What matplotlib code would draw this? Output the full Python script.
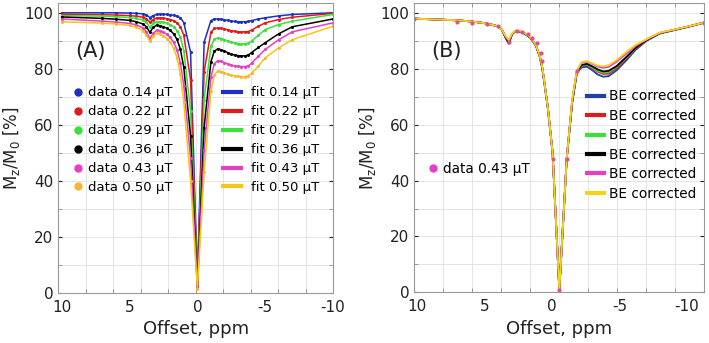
import matplotlib
matplotlib.use('Agg')
import matplotlib.pyplot as plt
from matplotlib.lines import Line2D
import numpy as np

plt.rcParams['font.family'] = 'DejaVu Sans'
plt.rcParams['axes.unicode_minus'] = False

# ---- panel A: Z-spectra at six B1 levels ----
offsets_a = [10, 7, 6, 5, 4.5, 4, 3.75, 3.5, 3.25, 3, 2.75, 2.5, 2.25, 2, 1.75, 1.5, 1.25, 1, 0.5, 0,
             -0.5, -1, -1.25, -1.5, -1.75, -2, -2.25, -2.5, -2.75, -3, -3.25, -3.5, -3.75, -4, -4.5, -5,
             -6, -7, -10]

z_014 = [100, 100, 100, 99.9, 99.8, 99.6, 99.2, 98.3, 99, 99.4, 99.5, 99.5, 99.4, 99.3, 99.1, 98.8, 98.2, 96.5, 86, 4,
         89.5, 97.2, 97.8, 97.8, 97.7, 97.5, 97.3, 97.1, 96.9, 96.8, 96.8, 96.8, 96.9, 97.2, 97.8, 98.2,
         98.9, 99.4, 100]
z_022 = [99.5, 99.3, 99.2, 99, 98.8, 98.4, 97.8, 96.6, 97.6, 98.2, 98.2, 98.1, 97.9, 97.6, 97.2, 96.4, 95, 92, 76, 3.5,
         79, 93, 94.4, 94.6, 94.5, 94.2, 93.9, 93.6, 93.4, 93.2, 93.2, 93.2, 93.3, 93.8, 95.2, 96.4,
         97.6, 98.4, 99.8]
z_029 = [99, 98.8, 98.6, 98.3, 98, 97.4, 96.6, 94.8, 96.2, 96.8, 96.8, 96.6, 96.3, 95.8, 95, 93.6, 91.3, 86.5, 65, 3,
         69, 88, 90.6, 91, 90.8, 90.4, 89.9, 89.5, 89.2, 89, 88.9, 88.9, 89.1, 89.9, 92, 94,
         95.8, 97, 99.4]
z_036 = [98.5, 98, 97.7, 97.3, 96.8, 96, 95, 93, 94.8, 95.6, 95.4, 95, 94.5, 93.7, 92.5, 90.5, 87, 80.5, 56, 2.5,
         59, 82.5, 86.3, 87.1, 86.8, 86.3, 85.7, 85.2, 84.9, 84.7, 84.6, 84.6, 84.9, 85.8, 87.6, 89.3,
         92.5, 95, 97.8]
z_043 = [97.8, 97, 96.7, 96.2, 95.7, 94.6, 93.2, 90.8, 92.6, 93.8, 93.6, 93.1, 92.3, 91.2, 89.5, 86.8, 82, 74, 48, 2,
         51, 77, 81.8, 82.9, 82.7, 82.2, 81.7, 81.3, 81, 80.9, 80.8, 80.8, 81, 82, 84.5, 86.9,
         90.4, 93.2, 96.4]
z_050 = [96.8, 96.3, 96, 95.5, 94.8, 93.6, 92, 89.8, 91.6, 92.8, 92.4, 91.7, 90.8, 89.5, 87.3, 84, 78, 68, 40, 1.5,
         43, 72, 77.8, 79.1, 79, 78.6, 78.1, 77.7, 77.4, 77.3, 77.2, 77.2, 77.4, 78.4, 81, 83.9,
         87.5, 90.4, 95.2]

b1_labels = ['0.14', '0.22', '0.29', '0.36', '0.43', '0.50']
line_colors = ['#1f2fc4', '#e31a1c', '#3be03b', '#000000', '#e83fc0', '#f5c518']
dot_colors = ['#1f2fc4', '#e31a1c', '#3be03b', '#000000', '#e83fc0', '#f7b733']

# ---- panel B: BE corrected fits and one data set ----
offsets_b = [10.2, 8, 7, 6, 5, 4.5, 4, 3.7, 3.45, 3.2, 2.95, 2.7, 2.4, 2.0, 1.6, 1.2, 0.9, 0.7, 0.3, -0.05,
             -0.55, -1.1, -1.5, -1.85, -2.2, -2.6, -3.0, -3.4, -3.8, -4.2, -4.8, -5.5, -6.2, -7.0, -8.0,
             -9.0, -10.0, -11.3]
be_014 = [98, 97.6, 97.4, 97, 96.4, 95.9, 95.2, 94, 91.2, 89, 92.4, 93.6, 93.4, 92.6, 91.2, 88.5, 84.5, 80, 66, 50,
          0.8, 48, 68, 78.6, 80.5, 80.8, 79.5, 78, 77.2, 77.4, 79.5, 83, 86.8, 90.0, 92.7,
          93.8, 95.0, 96.6]
be_022 = [98, 97.6, 97.4, 97, 96.4, 95.9, 95.2, 94, 91.4, 89.5, 92.5, 93.6, 93.4, 92.6, 91.2, 88.5, 84.5, 80, 66, 50,
          0.8, 48, 68, 78.8, 81, 81.4, 80.3, 79, 78.2, 78.3, 80.2, 83.6, 87.2, 90.2, 92.8,
          93.9, 95.0, 96.6]
be_029 = [98, 97.6, 97.4, 97, 96.4, 95.9, 95.2, 94, 91.5, 89.8, 92.5, 93.6, 93.4, 92.6, 91.2, 88.5, 84.5, 80, 66, 50,
          0.8, 48, 68, 78.9, 81.2, 81.6, 80.5, 79.3, 78.6, 78.8, 80.7, 84, 87.4, 90.3, 92.8,
          93.9, 95.0, 96.6]
be_036 = [98, 97.6, 97.4, 97, 96.4, 95.9, 95.2, 94, 91.5, 89.6, 92.5, 93.6, 93.4, 92.6, 91.2, 88.5, 84.5, 80, 66, 50,
          0.8, 48, 68, 79, 81.4, 81.8, 80.9, 79.8, 79.1, 79.3, 81, 84.2, 87.5, 90.3, 92.8,
          93.9, 95.0, 96.6]
be_043 = [98, 97.6, 97.4, 97, 96.4, 95.9, 95.2, 94, 91.7, 90, 92.6, 93.7, 93.5, 92.7, 91.3, 88.6, 84.6, 80.2, 66, 50,
          0.8, 48, 68.5, 79.3, 82.2, 82.6, 81.8, 80.8, 80.4, 80.7, 82.6, 85.4, 88.2, 90.5, 92.9,
          94.0, 95.1, 96.6]
be_050 = [98, 97.6, 97.4, 97, 96.4, 95.9, 95.2, 94, 91.9, 90.4, 92.7, 93.8, 93.6, 92.8, 91.4, 88.7, 84.7, 80.4, 66, 50,
          0.8, 48, 69, 79.5, 82.5, 82.8, 82, 81.2, 80.9, 81.3, 83.2, 86, 88.6, 90.6, 93.0,
          94.0, 95.1, 96.6]
be_colors = ['#1f3faf', '#e31a1c', '#3be03b', '#000000', '#e83fc0', '#f5d31a']

data_b_offsets = [10.2, 7.0, 5.95, 4.8, 4.0, 3.2, 2.6, 2.2, 1.8, 1.45, 1.1, 0.8, 0.7, -0.05, -0.55, -1.1, -1.85, -11.3]
data_b_043 = [97.8, 96.9, 96.6, 96.0, 95.4, 89.8, 93.6, 93.2, 92.4, 91.0, 89.2, 85.8, 83.0, 47.6, 0.8, 47.6, 79.4, 96.6]


def style_axes(ax, xlim):
    ax.set_xlim(xlim)
    ax.set_ylim(0, 103.5)
    ax.set_xticks([10, 5, 0, -5, -10])
    ax.set_xticks(np.linspace(xlim[0], xlim[1], 11)[1:-1], minor=True)
    ax.set_yticks([0, 20, 40, 60, 80, 100])
    ax.set_yticks([10, 30, 50, 70, 90], minor=True)
    ax.tick_params(which='major', axis='x', length=0, labelsize=11, pad=5, colors='#222222')
    ax.tick_params(which='major', axis='y', length=3, direction='in', labelsize=11, right=True,
                   colors='#222222')
    ax.tick_params(which='minor', length=3, direction='in', top=True, right=True, color='#888888')
    ax.grid(which='minor', axis='x', color='#e4e4e4', lw=0.7)
    ax.grid(which='both', axis='y', color='#e4e4e4', lw=0.7)
    ax.set_axisbelow(True)
    for s in ax.spines.values():
        s.set_color('#999999')
        s.set_linewidth(0.8)
    ax.set_xlabel('Offset, ppm', fontsize=13, labelpad=4, color='#222222')
    ax.set_ylabel(r'$\mathregular{M_z/M_0}$ [%]', fontsize=12, labelpad=2, color='#222222')


fig = plt.figure(figsize=(7.09, 3.43), dpi=100)
ax_a = fig.add_axes([0.0822, 0.1466, 0.3875, 0.8447])
ax_b = fig.add_axes([0.5844, 0.1478, 0.409, 0.8426])

series_a = [z_014, z_022, z_029, z_036, z_043, z_050]
for vals, lc, dc in zip(series_a, line_colors, dot_colors):
    ax_a.plot(offsets_a, vals, '-', color=lc, lw=1.1)
    ax_a.plot(offsets_a, vals, 'o', color=dc, ms=2.2, mec='none')

style_axes(ax_a, (10.25, -10))
ax_a.text(7.85, 86.5, '(A)', fontsize=15, ha='center', va='center', color='#222222')

data_handles = [Line2D([], [], ls='none', marker='o', ms=6, color=c, mec='none') for c in dot_colors]
fit_handles = [Line2D([], [], lw=3, color=c) for c in line_colors]
leg1 = ax_a.legend(data_handles, ['data %s µT' % b for b in b1_labels], loc='upper left',
                   bbox_to_anchor=(0.059, 0.712), frameon=False, fontsize=9.5, borderpad=0,
                   borderaxespad=0, handlelength=0.6, handletextpad=0.4, labelspacing=0.45)
ax_a.add_artist(leg1)
ax_a.legend(fit_handles, ['fit %s µT' % b for b in b1_labels], loc='upper left',
            bbox_to_anchor=(0.5996, 0.712), frameon=False, fontsize=9.5, borderpad=0,
            borderaxespad=0, handlelength=1.4, handletextpad=0.7, labelspacing=0.45)

series_b = [be_014, be_022, be_029, be_036, be_043, be_050]
for vals, c in zip(series_b, be_colors):
    ax_b.plot(offsets_b, vals, '-', color=c, lw=1.3)
ax_b.plot(data_b_offsets, data_b_043, 'o', color='#e0508a', ms=3, mec='none')

style_axes(ax_b, (10.2, -11.3))
ax_b.text(7.8, 86.5, '(B)', fontsize=15, ha='center', va='center', color='#222222')

be_handles = [Line2D([], [], lw=3, color=c) for c in be_colors]
leg2 = ax_b.legend(be_handles, ['BE corrected'] * 6, loc='upper left',
                   bbox_to_anchor=(0.5945, 0.702), frameon=False, fontsize=9.8, borderpad=0,
                   borderaxespad=0, handlelength=1.3, handletextpad=0.3, labelspacing=0.4)
ax_b.add_artist(leg2)
ax_b.legend([Line2D([], [], ls='none', marker='o', ms=6, color='#e83fc0', mec='none')],
            ['data 0.43 µT'], loc='upper left', bbox_to_anchor=(0.049, 0.451), frameon=False,
            fontsize=9.8, borderpad=0, borderaxespad=0, handlelength=0.6, handletextpad=0.45)

fig.savefig('out.png', dpi=100)
